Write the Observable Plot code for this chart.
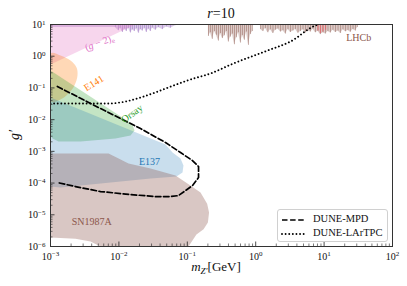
<!DOCTYPE html>
<html><head><meta charset="utf-8">
<script src="https://cdn.jsdelivr.net/npm/d3@7"></script>
<script src="https://cdn.jsdelivr.net/npm/@observablehq/plot@0.6"></script>
<style>
body{margin:0;background:#fff;}
#wrap{position:relative;width:407px;height:286px;font-family:'Liberation Serif',serif;}
#wrap svg text{font-family:'Liberation Serif',serif;}
#legend{position:absolute;left:277px;top:209px;width:109px;height:31px;border:1px solid #d0d0d0;border-radius:3px;background:rgba(255,255,255,0.85);font-size:10.5px;color:#111;}
#legend .row{position:absolute;left:3px;height:13px;line-height:13px;white-space:nowrap;}
#legend svg{vertical-align:middle;}
</style></head><body><div id="wrap"></div>
<script>
// ---- data (x = m_Z' in GeV, y = g') ----
const xTicks = [1e-3, 1e-2, 1e-1, 1e0, 1e1, 1e2];
const yTicks = [1e-6, 1e-5, 1e-4, 1e-3, 1e-2, 1e-1, 1e0, 1e1];

const g2eX = [0.001, 0.001, 0.0175];
const g2eY = [10, 0.55, 10];

const e141X = [0.001, 0.0014, 0.00196, 0.0024, 0.00248, 0.00224, 0.00183, 0.0014, 0.001];
const e141Y = [1.22, 1.05, 0.73, 0.44, 0.246, 0.119, 0.0666, 0.043, 0.0372];

const orsayX = [0.001, 0.0138, 0.0158, 0.0169, 0.0148, 0.00891, 0.00275, 0.00131, 0.00107, 0.001];
const orsayY = [0.354, 0.0087, 0.0070, 0.00453, 0.00315, 0.00253, 0.00204, 0.00204, 0.00253, 0.00315];

const e137X = [0.001, 0.048, 0.0608, 0.0796, 0.0879, 0.0851, 0.0695, 0.029, 0.00539, 0.0014, 0.001];
const e137Y = [0.0498, 0.00164, 0.000917, 0.000593, 0.000356, 0.000214, 0.00016, 0.000139, 0.0000964, 0.0000722, 0.0000776];

const snX = [0.001, 0.00705, 0.0099, 0.0138, 0.029, 0.0672, 0.111, 0.156, 0.195, 0.208, 0.20, 0.173, 0.136, 0.104, 0.00539, 0.00385, 0.00232, 0.001];
const snY = [0.000853, 0.000853, 0.000593, 0.000412, 0.000287, 0.000173, 0.0000834, 0.0000501, 0.0000224, 0.0000117, 0.00000567, 0.0000035, 0.00000237, 1e-6, 1e-6, 0.00000143, 0.00000177, 0.00000191];

const purpleX = [0.001, 0.0089, 0.0099, 0.0105, 0.0113, 0.0121, 0.0129, 0.0138, 0.0148, 0.0158, 0.0169, 0.0181, 0.0194, 0.0207, 0.0221, 0.0237, 0.0253, 0.0271, 0.029, 0.031, 0.0343, 0.0379, 0.0434, 0.0496, 0.0568, 0.0672];
const purpleLow = [8.0, 8.0, 6.4, 7.6, 5.6, 7.2, 6.0, 7.6, 5.4, 6.8, 6.0, 7.4, 5.3, 6.9, 6.2, 7.6, 5.6, 7.2, 6.0, 7.8, 6.6, 8.0, 6.9, 8.4, 7.6, 9.2];

const lhcbX = [0.204, 0.218, 0.233, 0.25, 0.267, 0.286, 0.306, 0.327, 0.35, 0.374, 0.40, 0.428, 0.458, 0.49, 0.524, 0.56, 0.60, 0.64, 0.686, 0.734, 0.785, 0.84, 0.898,
               1.18, 1.28, 1.39, 1.51, 1.65, 1.79, 1.95, 2.12, 2.31, 2.51, 2.73, 2.97, 3.23, 3.51, 3.82, 4.16, 4.52, 4.92, 5.35, 5.82, 6.33, 6.88, 7.48, 8.14, 8.85, 9.63, 10.5, 11.4, 12.4, 13.5, 14.7, 16.0, 17.4, 18.9, 20.6, 22.4, 24.3, 26.5, 28.8, 30.8];
const lhcbLow = [4.2, 5.5, 3.4, 6.0, 4.6, 3.0, 5.2, 3.6, 4.4, 6.0, 2.8, 4.0, 5.0, 2.3, 3.8, 5.5, 2.6, 4.5, 3.2, 5.8, 2.2, 4.8, 6.0,
                 7.0, 6.0, 7.5, 5.5, 6.8, 5.2, 6.6, 7.2, 5.8, 6.4, 5.0, 6.9, 5.6, 6.2, 7.0, 5.3, 6.0, 6.8, 5.4, 6.3, 5.8, 7.1, 5.5, 6.1, 4.8, 5.5, 5.0, 6.0, 5.4, 6.6, 5.6, 6.2, 5.2, 6.8, 5.9, 6.5, 5.7, 7.0, 6.2, 8.0];
const lhcbGroup = lhcbX.map(x => x < 1 ? "a" : "b");
const lhcbRedX = [8.14, 8.85, 9.63, 10.5];
const lhcbRedLow = [6.2, 5.2, 5.8, 6.6];

const mpdX = [0.00126, 0.00539, 0.0207, 0.048, 0.0796, 0.119, 0.146, 0.146, 0.119, 0.0743, 0.0568, 0.0343, 0.0148, 0.00539, 0.00232, 0.00126];
const mpdY = [0.111, 0.0224, 0.00524, 0.0019, 0.000917, 0.000513, 0.000332, 0.000149, 0.0000834, 0.0000403, 0.0000375, 0.0000375, 0.0000434, 0.000054, 0.0000776, 0.000104];

const larX = [0.001, 0.00275, 0.00681, 0.0125, 0.0207, 0.0406, 0.0628, 0.111, 0.218, 0.473, 1.49, 3.23, 7.48, 8.28];
const larY = [0.0322, 0.0322, 0.0322, 0.0372, 0.0498, 0.0828, 0.119, 0.184, 0.285, 0.59, 1.51, 2.91, 9.3, 10];

const labelText = ["(g−2)e", "E141", "Orsay", "E137", "SN1987A", "LHCb"];
const labelX = [0.0052, 0.0043, 0.0155, 0.028, 0.0040, 32];
const labelY = [2.7, 0.14, 0.0156, 0.000476, 0.0000061, 3.9];
const labelColor = ["#e070c8", "#ff7f0e", "#2ca02c", "#1f77b4", "#8c564b", "#8c564b"];
const labelRotate = [-21, -32, -36, 0, 0, 0];

// minor ticks derived from decades
const minor = (majors) => majors.slice(0, -1).flatMap(m => [2,3,4,5,6,7,8,9].map(k => k * m));

const W = 407, H = 286, mL = 50, mR = 15, mT = 24, mB = 40;
const frameW = W - mL - mR, frameH = H - mT - mB;
const fmt = d => `10^${Math.round(Math.log10(d))}`;
const FF = "'Liberation Serif', serif";

const plot = Plot.plot({
  width: W, height: H,
  marginLeft: mL, marginRight: mR, marginTop: mT, marginBottom: mB,
  style: {fontFamily: FF, fontSize: "10px", background: "white", color: "#111"},
  x: {type: "log", domain: [1e-3, 1e2]},
  y: {type: "log", domain: [1e-6, 1e1]},
  marks: [
    Plot.areaY(purpleX, {x: purpleX, y1: purpleX.map(() => 10), y2: purpleLow, fill: "#9467bd", fillOpacity: 0.35, clip: true}),
    Plot.ruleX(purpleX.slice(1), {x: d => d, y1: 10, y2: (d, i) => purpleLow[i + 1], stroke: "#9467bd", strokeOpacity: 0.45, strokeWidth: 1, clip: true}),
    Plot.line(g2eX, {x: g2eX, y: g2eY, fill: "#e377c2", fillOpacity: 0.3, stroke: "none", curve: "linear-closed", clip: true}),
    Plot.line(e141X, {x: e141X, y: e141Y, fill: "#ff7f0e", fillOpacity: 0.3, stroke: "none", curve: "catmull-rom-closed", clip: true}),
    Plot.line(orsayX, {x: orsayX, y: orsayY, fill: "#2ca02c", fillOpacity: 0.28, stroke: "none", curve: "linear-closed", clip: true}),
    Plot.line(e137X, {x: e137X, y: e137Y, fill: "#1f77b4", fillOpacity: 0.24, stroke: "none", curve: "linear-closed", clip: true}),
    Plot.line(snX, {x: snX, y: snY, fill: "#8c564b", fillOpacity: 0.33, stroke: "none", curve: "linear-closed", clip: true}),
    Plot.areaY(lhcbX, {x: lhcbX, y1: lhcbX.map(() => 10), y2: lhcbLow, z: lhcbGroup, fill: "#8c564b", fillOpacity: 0.3, clip: true}),
    Plot.ruleX(lhcbX, {x: lhcbX, y1: 10, y2: lhcbLow, stroke: "#8c564b", strokeOpacity: 0.45, strokeWidth: 1, clip: true}),
    Plot.ruleX(lhcbRedX, {x: lhcbRedX, y1: 10, y2: lhcbRedLow, stroke: "#e8626a", strokeOpacity: 0.7, strokeWidth: 1.3, clip: true}),
    Plot.line(mpdX, {x: mpdX, y: mpdY, stroke: "black", strokeWidth: 1.7, strokeDasharray: "5.5,2.6", curve: "linear", clip: true}),
    Plot.line(larX, {x: larX, y: larY, stroke: "black", strokeWidth: 1.9, strokeDasharray: "0.01,3.6", strokeLinecap: "round", curve: "monotone-x", clip: true}),
    Plot.text(labelText, {x: labelX, y: labelY, text: labelText, fill: labelColor, rotate: labelRotate, fontSize: 10, fontFamily: FF}),
    // ticks (inward)
    Plot.tickX(xTicks, {x: d => d, insetTop: frameH - 4.5, stroke: "#222", strokeWidth: 0.8}),
    Plot.tickX(minor(xTicks), {x: d => d, insetTop: frameH - 2.5, stroke: "#222", strokeWidth: 0.6}),
    Plot.tickY(yTicks, {y: d => d, insetRight: frameW - 4.5, stroke: "#222", strokeWidth: 0.8}),
    Plot.tickY(minor(yTicks), {y: d => d, insetRight: frameW - 2.5, stroke: "#222", strokeWidth: 0.6}),
    Plot.axisX(xTicks, {tickSize: 0, tickPadding: 6, tickFormat: fmt, label: null, fontSize: 10}),
    Plot.axisY(yTicks, {tickSize: 0, tickPadding: 5, tickFormat: fmt, label: null, fontSize: 10}),
    Plot.frame({stroke: "#333", strokeWidth: 1})
  ]
});

// superscript exponents in tick labels and the (g-2)e label
d3.select(plot).selectAll("text").each(function() {
  const t = this.textContent;
  const m = /^10\^(-?\d+)$/.exec(t);
  if (m) {
    const sel = d3.select(this);
    sel.text("10");
    sel.append("tspan").attr("dy", "-0.45em").attr("font-size", "7px").text(m[1].replace("-", "−"));
  } else if (t === "(g−2)e") {
    const sel = d3.select(this);
    sel.text("(").append("tspan").attr("font-style", "italic").text("g");
    sel.append("tspan").text(" − 2)");
    sel.append("tspan").attr("font-size", "7px").attr("dy", "0.35em").text("e");
  }
});

const svg = d3.select(plot);
// title
const title = svg.append("text").attr("x", 221).attr("y", 18).attr("text-anchor", "middle")
  .attr("font-size", "14px").attr("fill", "#111");
title.append("tspan").attr("font-style", "italic").text("r");
title.append("tspan").text("=10");
// x label
const xl = svg.append("text").attr("x", 216).attr("y", 271).attr("text-anchor", "middle")
  .attr("font-size", "13px").attr("fill", "#111");
xl.append("tspan").attr("font-style", "italic").text("m");
xl.append("tspan").attr("font-style", "italic").attr("font-size", "9px").attr("dy", "3").text("Z′");
xl.append("tspan").attr("dy", "-3").text("[GeV]");
// y label
svg.append("text").attr("transform", "translate(19,135) rotate(-90)").attr("text-anchor", "middle")
  .attr("font-size", "14px").attr("font-style", "italic").attr("fill", "#111").text("g′");

const wrap = document.getElementById("wrap");
wrap.appendChild(plot);

// legend
const legend = document.createElement("div");
legend.id = "legend";
legend.innerHTML = `
<div class="row" style="top:2px"><svg width="24" height="6"><line x1="1" y1="3" x2="23" y2="3" stroke="black" stroke-width="1.7" stroke-dasharray="5.5,2.6"/></svg><span style="margin-left:8px">DUNE-MPD</span></div>
<div class="row" style="top:16px"><svg width="24" height="6"><line x1="1" y1="3" x2="23" y2="3" stroke="black" stroke-width="1.9" stroke-dasharray="0.01,3.6" stroke-linecap="round"/></svg><span style="margin-left:8px">DUNE-LArTPC</span></div>`;
wrap.appendChild(legend);
</script>
</body></html>
